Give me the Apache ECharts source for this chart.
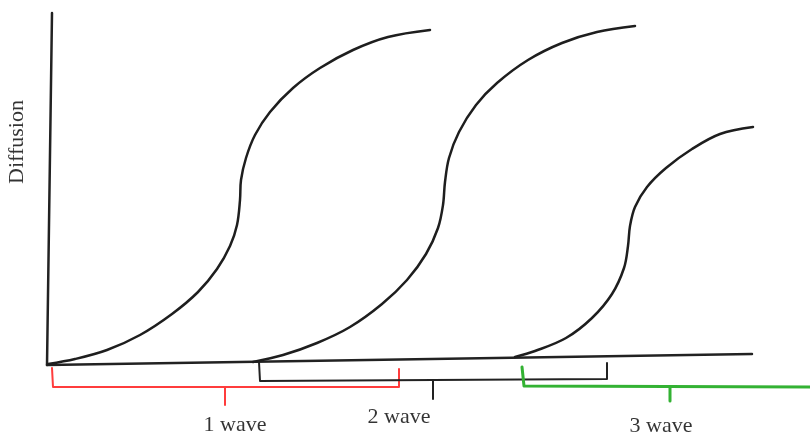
<!DOCTYPE html>
<html>
<head>
<meta charset="utf-8">
<script src="https://cdn.jsdelivr.net/npm/echarts@6/dist/echarts.min.js"></script>
<style>
html,body{margin:0;padding:0;background:#fff;}
#chart{width:810px;height:435px;}
</style>
</head>
<body>
<div id="chart"></div>
<script>
// Schematic coordinates (x to the right, y downward)
const yAxisLine = [[52, 13], [47, 365]];
const xAxisLine = [[47, 365], [752, 354]];

const wave1Curve = [[48,364],[75,359],[107,350],[140,335],[172,314],[198,292],[217,269],[230,246],[237,225],[240,200],[241,180],[246,158],[255,135],[270,112],[293,88],[320,68],[353,50],[388,37],[430,30]];
const wave2Curve = [[253,362],[283,355],[317,343],[350,327],[382,304],[407,280],[426,254],[438,228],[443,205],[445,182],[449,158],[459,132],[476,105],[497,83],[528,60],[562,43],[597,32],[635,26]];
const wave3Curve = [[515,357],[535,351],[566,338],[592,318],[612,294],[624,268],[628,246],[630,226],[635,207],[647,187],[666,168],[692,149],[720,134],[753,127]];

const bracket1 = [[52,368],[53,387],[399,387],[399,369]];
const bracket1Tick = [[225,387],[225,405]];
const bracket2 = [[259,362],[260,381],[607,379],[607,363]];
const bracket2Tick = [[433,380],[433,399]];
const bracket3 = [[522,367],[524,386],[810,387]];
const bracket3Tick = [[670,387],[670,401]];

const waveLabels = ['1 wave', '2 wave', '3 wave'];
const waveLabelPos = [[235,425],[399,417],[661,426]];
const yTitle = 'Diffusion';
const yTitlePos = [17, 142];

function line(data, color, width, smooth) {
  return {
    type: 'line', data: data, symbol: 'none', smooth: smooth || false,
    lineStyle: { color: color, width: width, cap: 'round', join: 'round' },
    silent: true, animation: false
  };
}

const series = [
  line(yAxisLine, '#222', 2.5),
  line(xAxisLine, '#222', 2.5),
  line(wave1Curve, '#1e1e1e', 2.5, 0.35),
  line(wave2Curve, '#1e1e1e', 2.5, 0.35),
  line(wave3Curve, '#1e1e1e', 2.5, 0.35),
  line(bracket1, '#ff3c3c', 2),
  line(bracket1Tick, '#ff3c3c', 2),
  line(bracket2, '#222', 2),
  line(bracket2Tick, '#222', 2),
  line(bracket3, '#33b233', 3),
  line(bracket3Tick, '#33b233', 3),
  {
    type: 'scatter', symbolSize: 0, silent: true, animation: false,
    data: waveLabels.map((t, i) => ({ value: waveLabelPos[i], name: t })),
    label: {
      show: true, position: 'inside', formatter: p => p.name,
      fontFamily: 'Liberation Serif', fontSize: 22, color: '#000',
      align: 'center', verticalAlign: 'middle'
    }
  },
  {
    type: 'scatter', symbolSize: 0, silent: true, animation: false,
    data: [{ value: yTitlePos, name: yTitle }],
    label: {
      show: true, position: 'inside', formatter: p => p.name, rotate: 90,
      fontFamily: 'Liberation Serif', fontSize: 22, color: '#000',
      align: 'center', verticalAlign: 'middle'
    }
  }
];

const chart = echarts.init(document.getElementById('chart'), null, { renderer: 'canvas' });
chart.setOption({
  backgroundColor: '#ffffff',
  animation: false,
  grid: { left: 0, right: 0, top: 0, bottom: 0 },
  xAxis: { type: 'value', min: 0, max: 810, show: false },
  yAxis: { type: 'value', min: 0, max: 435, inverse: true, show: false },
  series: series
});
</script>
</body>
</html>
